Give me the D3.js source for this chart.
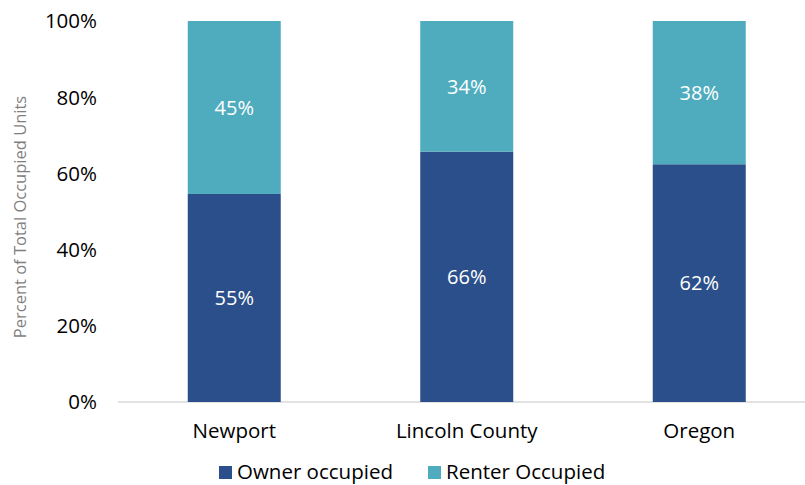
<!DOCTYPE html>
<html><head><meta charset="utf-8">
<script src="https://cdn.jsdelivr.net/npm/d3@7"></script>
<style>body{margin:0;background:#fff}svg{display:block}text{font-family:"Open Sans","Liberation Sans",Arial,sans-serif}</style>
</head><body><svg id="c" width="805" height="485"></svg>
<script>
const categories = ["Newport", "Lincoln County", "Oregon"];
const ownerValues = [54.6, 65.7, 62.4];
const renterValues = [45.4, 34.3, 37.6];
const seriesNames = ["Owner occupied", "Renter Occupied"];
const seriesColors = ["#2B4F8A", "#4FACBE"];
const yTicks = [0, 20, 40, 60, 80, 100];

const svg = d3.select("#c");
const x = d3.scaleBand().domain(categories).range([118, 815.5]).paddingInner(0.6).paddingOuter(0.3);
const y = d3.scaleLinear().domain([0, 100]).range([402, 21]);

svg.append("line").attr("x1", 118).attr("x2", 805).attr("y1", y(0)).attr("y2", y(0))
  .attr("stroke", "#d9d9d9").attr("stroke-width", 1.5);

const rows = categories.map((c, i) => ({cat: c, owner: ownerValues[i], renter: renterValues[i]}));
const stack = d3.stack().keys(["owner", "renter"])(rows);

stack.forEach((layer, li) => {
  const g = svg.append("g");
  g.selectAll("rect").data(layer).join("rect")
    .attr("x", d => x(d.data.cat)).attr("width", x.bandwidth())
    .attr("y", d => y(d[1])).attr("height", d => y(d[0]) - y(d[1]))
    .attr("fill", seriesColors[li]);
  g.selectAll("text").data(layer).join("text")
    .attr("x", d => x(d.data.cat) + x.bandwidth() / 2)
    .attr("y", d => (y(d[0]) + y(d[1])) / 2)
    .attr("dy", "0.36em").attr("text-anchor", "middle")
    .attr("fill", "#fff").attr("font-size", 20)
    .text(d => Math.round(d[1] - d[0]) + "%");
});

svg.append("g").selectAll("text").data(yTicks).join("text")
  .attr("x", 97).attr("y", d => y(d)).attr("dy", "0.36em").attr("text-anchor", "end")
  .attr("font-size", 20.5).attr("fill", "#000").text(d => d + "%");

svg.append("text").attr("transform", "translate(26,217) rotate(-90)")
  .attr("text-anchor", "middle").attr("font-size", 16.5).attr("fill", "#7f7f7f")
  .text("Percent of Total Occupied Units");

svg.append("g").selectAll("text").data(categories).join("text")
  .attr("x", d => x(d) + x.bandwidth() / 2).attr("y", 438).attr("text-anchor", "middle")
  .attr("font-size", 20.5).attr("fill", "#000").text(d => d);

const legX = [219, 428];
seriesNames.forEach((n, i) => {
  svg.append("rect").attr("x", legX[i]).attr("y", 466).attr("width", 13).attr("height", 13).attr("fill", seriesColors[i]);
  svg.append("text").attr("x", legX[i] + 18).attr("y", 479).attr("font-size", 20.5).attr("fill", "#000").text(n);
});
</script></body></html>
